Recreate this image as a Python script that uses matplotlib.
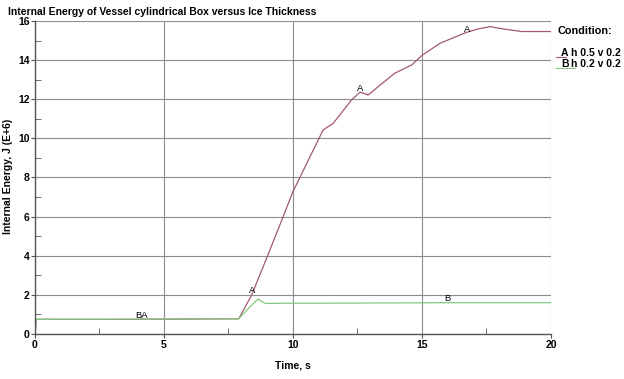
import numpy as np
import matplotlib
matplotlib.use("Agg")
import matplotlib.pyplot as plt
from matplotlib.lines import Line2D

plt.rcParams['font.family'] = ['Liberation Sans', 'DejaVu Sans']
plt.rcParams['font.weight'] = 'bold'

# condition A (h 0.5 v 0.2)
time_a = [0.0, 0.05, 4.0, 7.9, 8.4, 9.03, 9.62, 10.0, 10.6, 11.17, 11.56, 12.27,
          12.6, 12.92, 13.4, 13.95, 14.6, 14.99, 15.7, 16.73, 17.2, 17.64,
          18.15, 18.86, 20.0]
energy_a = [0.0, 0.75, 0.75, 0.78, 2.0, 4.04, 6.0, 7.28, 8.9, 10.43, 10.77, 11.96,
            12.36, 12.22, 12.75, 13.33, 13.75, 14.23, 14.86, 15.42, 15.6, 15.71,
            15.59, 15.46, 15.46]

# condition B (h 0.2 v 0.2)
time_b = [0.0, 0.05, 4.0, 5.6, 7.9, 8.3, 8.65, 8.8, 8.95, 9.5, 12.0, 16.0, 20.0]
energy_b = [0.0, 0.75, 0.76, 0.77, 0.78, 1.35, 1.79, 1.65, 1.56, 1.57, 1.58, 1.6, 1.6]

red = '#a35a6a'
green = '#82c882'

W, H = 624, 379
fig = plt.figure(figsize=(W / 100, H / 100), dpi=100)
ax = fig.add_axes([0.056, 0.1187, 0.827, 0.826])


def fx(px):
    return px / W


def fy(py):
    return 1 - py / H


ax.plot(time_a, energy_a, color=red, linewidth=0.9)
ax.plot(time_b, energy_b, color=green, linewidth=0.9)

# curve labels
for x, y, s in [(8.4, 2.0, 'A'), (12.6, 12.3, 'A'), (16.75, 15.35, 'A'),
                (16.0, 1.6, 'B'), (4.13, 0.72, 'BA')]:
    ax.text(x, y, s, fontsize=6.8, fontweight='normal', ha='center', va='bottom')

ax.set_xlim(0, 20)
ax.set_ylim(0, 16)
ax.set_xticks([0, 5, 10, 15, 20])
ax.set_yticks(np.arange(0, 17, 2))
ax.set_xticks([2.5, 7.5, 12.5, 17.5], minor=True)
ax.set_yticks(np.arange(1, 16, 2), minor=True)
ax.grid(True, which='major', color='#8c8c8c', linewidth=0.8)
ax.tick_params(which='major', direction='out', length=3, color='#555555',
               labelsize=7.5, pad=1)
ax.tick_params(which='minor', direction='in', length=4, color='#555555')
for s in ['top', 'right']:
    ax.spines[s].set_visible(False)
for s in ['left', 'bottom']:
    ax.spines[s].set_color('#555555')
    ax.spines[s].set_linewidth(1.0)

fig.text(fx(293), fy(366), 'Time, s', fontsize=7.5, fontweight='bold',
         ha='center', va='center')
fig.text(fx(8), fy(176), 'Internal Energy, J (E+6)', fontsize=7.5, fontweight='bold',
         rotation=90, ha='center', va='center')
fig.text(fx(8), fy(12), 'Internal Energy of Vessel cylindrical Box versus Ice Thickness',
         fontsize=7.5, fontweight='bold', ha='left', va='center')

# legend at right
fig.text(fx(557), fy(31), 'Condition:', fontsize=7.8, fontweight='bold', va='center')
for i, (lab, txt, col) in enumerate([('A', 'h 0.5 v 0.2', red), ('B', 'h 0.2 v 0.2', green)]):
    yy = 53 + i * 11
    fig.add_artist(Line2D([fx(556), fx(566 + 9 * i)], [fy(yy + 4), fy(yy + 4)], color=col,
                          linewidth=0.8, transform=fig.transFigure))
    fig.text(fx(561), fy(yy), lab, fontsize=7.5, fontweight='bold', va='center')
    fig.text(fx(571), fy(yy), txt, fontsize=7.5, fontweight='bold', va='center')

fig.savefig('out.png', dpi=100)
